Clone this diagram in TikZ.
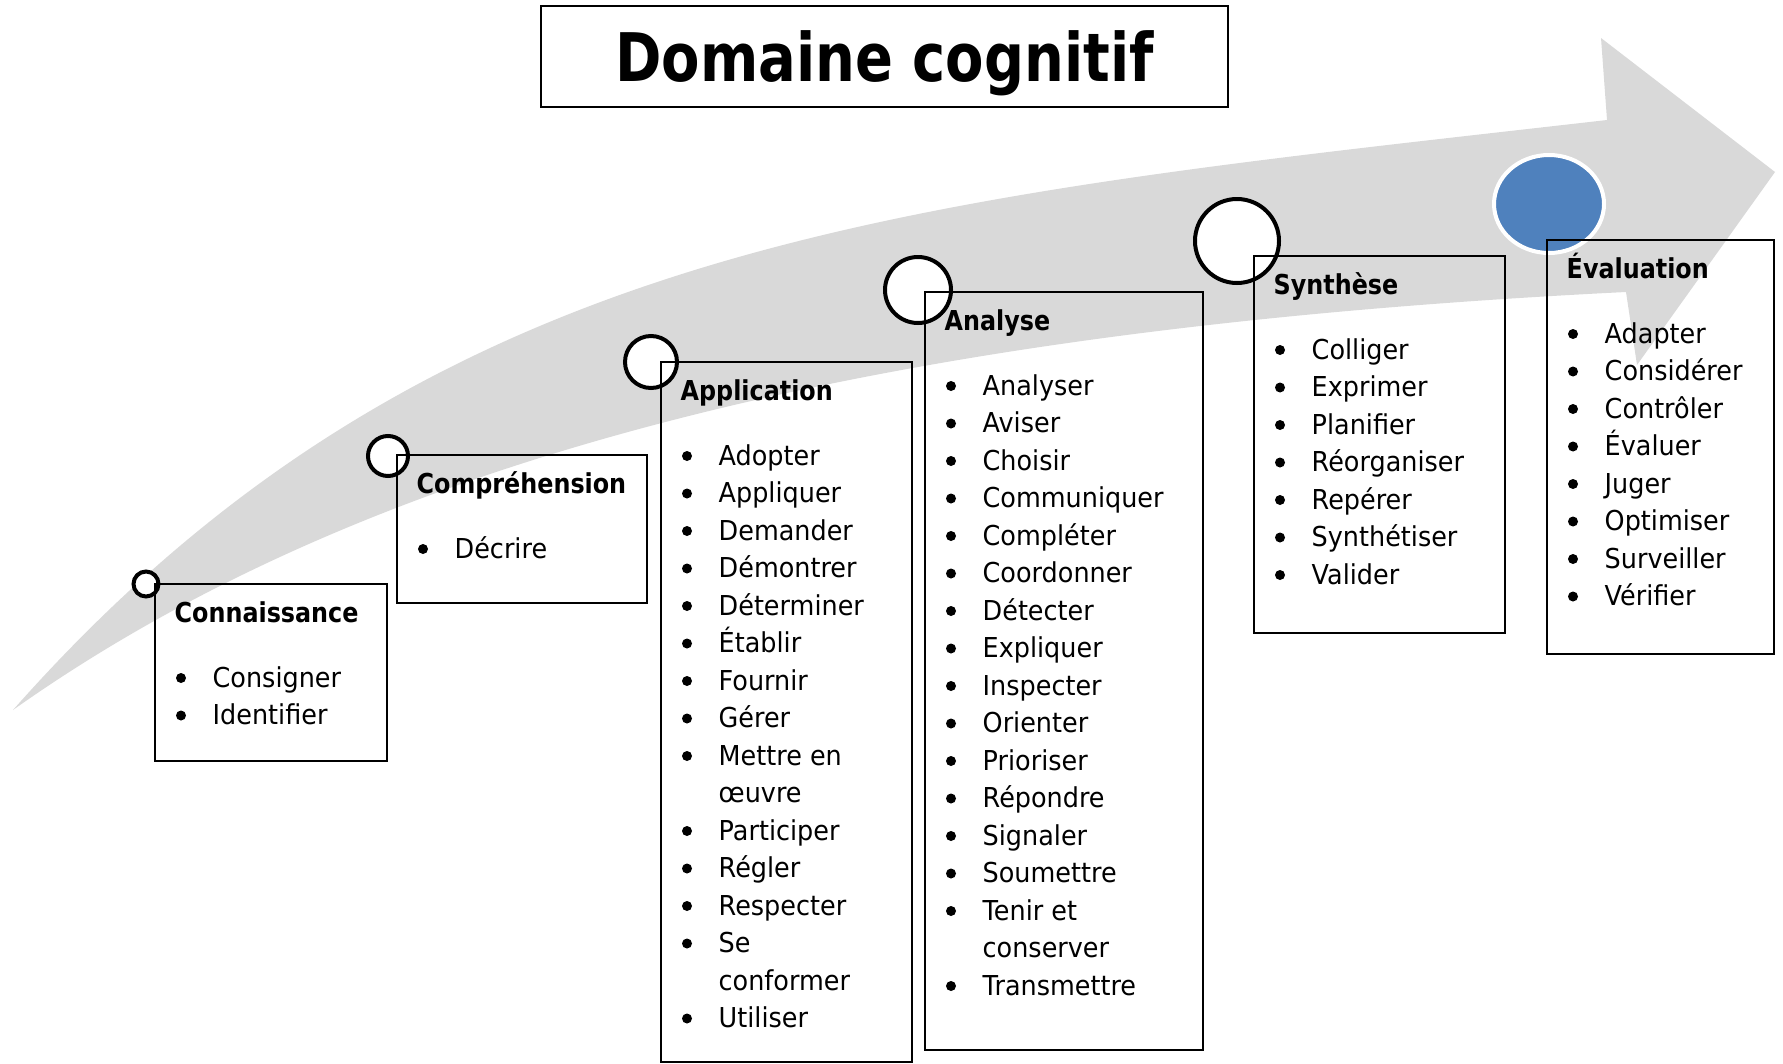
\documentclass[tikz,border=0pt]{standalone}
\usepackage{fontspec}
\setmainfont{DejaVu Sans}[FakeStretch=0.93]
\newfontfamily\headfont{DejaVu Sans}[FakeStretch=0.87]
\newfontfamily\titlefont{DejaVu Sans}[FakeStretch=0.835]
\usetikzlibrary{shapes.geometric}
\definecolor{arrowgray}{HTML}{D9D9D9}
\definecolor{stageblue}{HTML}{4F81BD}

% one stage: name, x, y, width, height, heading, lines (text/bullet)
\newcommand\stage[7]{%
  \node[box, minimum width=#4pt, minimum height=#5pt] (#1) at (#2,#3) {};
  \node[head] (#1-t) at (#2+19.5,#3+38) {#6};
  \foreach \w/\bul [count=\n] in {#7} {
    \node[item] (#1-\n) at (#2+57.5,#3+65.5+37.5*\n) {\w};
    \ifnum\bul=1 \fill (#2+26,#3+56.5+37.5*\n) circle (5);\fi
  }%
}

\begin{document}
\begin{tikzpicture}[x=1pt,y=-1pt,
    box/.style={draw,line width=1.8pt,rectangle,anchor=north west,
                inner sep=0pt,outer sep=0pt},
    ring/.style={circle,draw,fill=white,line width=4pt,inner sep=0pt},
    head/.style={anchor=base west,inner sep=0pt,
                 font=\headfont\bfseries\fontsize{27.4}{37.5}\selectfont},
    item/.style={anchor=base west,inner sep=0pt,
                 font=\fontsize{27.4}{37.5}\selectfont}]
  \useasboundingbox (0,0) rectangle (1783,1063);

  % big curved arrow
  \fill[arrowgray] (13,710) .. controls (433,235) and (907,200) .. (1607,120)
    -- (1601,38) -- (1775,172) -- (1637,365) -- (1626,292)
    .. controls (900,328) and (380,450) .. (13,710) -- cycle;

  \node[draw,line width=1.8pt,minimum width=687pt,minimum height=101pt,
        inner sep=0pt,text height=49pt,text depth=0pt,
        font=\titlefont\bfseries\fontsize{67}{70}\selectfont]
        (titre) at (884.5,56.5) {Domaine cognitif};

  \node[ring,minimum size=25pt] (c1) at (146,584) {};
  \node[ring,minimum size=40pt] (c2) at (388,456) {};
  \node[ring,minimum size=52pt] (c3) at (651,362) {};
  \node[ring,minimum size=66pt] (c4) at (918,290) {};
  \node[ring,minimum size=84pt] (c5) at (1237,241) {};
  \node[ellipse,fill=stageblue,draw=white,line width=4pt,inner sep=0pt,
        minimum width=110pt,minimum height=98pt] (c6) at (1549,204) {};

  \stage{conn}{155}{584}{232}{177}{Connaissance}
    {Consigner/1,Identifier/1}
  \stage{comp}{397}{455}{250}{148}{Compréhension}
    {Décrire/1}
  \stage{appl}{661}{362}{251}{700}{Application}
    {Adopter/1,Appliquer/1,Demander/1,Démontrer/1,Déterminer/1,Établir/1,
     Fournir/1,Gérer/1,Mettre en/1,œuvre/0,Participer/1,Régler/1,
     Respecter/1,Se/1,conformer/0,Utiliser/1}
  \stage{anal}{925}{292}{278}{758}{Analyse}
    {Analyser/1,Aviser/1,Choisir/1,Communiquer/1,Compléter/1,Coordonner/1,
     Détecter/1,Expliquer/1,Inspecter/1,Orienter/1,Prioriser/1,Répondre/1,
     Signaler/1,Soumettre/1,Tenir et/1,conserver/0,Transmettre/1}
  \stage{synth}{1254}{256}{251}{377}{Synthèse}
    {Colliger/1,Exprimer/1,Planifier/1,Réorganiser/1,Repérer/1,
     Synthétiser/1,Valider/1}
  \stage{eval}{1547}{240}{227}{414}{Évaluation}
    {Adapter/1,Considérer/1,Contrôler/1,Évaluer/1,Juger/1,Optimiser/1,
     Surveiller/1,Vérifier/1}
\end{tikzpicture}
\end{document}
